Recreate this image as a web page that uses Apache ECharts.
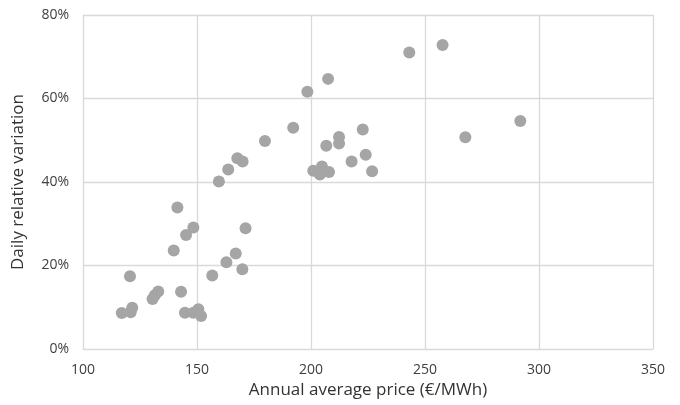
<!DOCTYPE html>
<html lang="en">
<head>
    <meta charset="UTF-8">
    <title>Daily relative variation vs annual average price</title>
    <script type="text/javascript" src="https://cdn.jsdelivr.net/npm/echarts@6/dist/echarts.min.js"></script>
    <style>
        html, body { margin: 0; padding: 0; background: #fff; }
    </style>
</head>
<body>
    <div id="main" style="width: 680px; height: 405px"></div>
    <script>
        // annual average price (EUR/MWh) and daily relative variation (%)
        var prices = [
            117, 121.6, 120.9, 120.6, 130.5, 131.5, 133, 143, 144.7,
            148.4, 150.6, 151.8, 139.8, 141.4, 145.2, 148.4, 156.7, 162.9, 167.0,
            169.9, 171.3, 159.6, 163.7, 167.7, 170.0, 179.8, 192.2, 198.4, 207.5,
            201.0, 203.9, 204.8, 207.9, 206.7, 212.3, 212.3, 217.8, 222.7, 224.0,
            226.8, 243.1, 257.7, 267.7, 291.8
        ];
        var variation = [
            8.6, 9.9, 8.8, 17.4, 12.0, 12.9, 13.8, 13.7, 8.7,
            8.7, 9.5, 7.9, 23.6, 33.9, 27.3, 29.1, 17.6, 20.8, 22.9,
            19.1, 28.9, 40.1, 43.0, 45.7, 44.9, 49.8, 53.0, 61.6, 64.7,
            42.7, 41.8, 43.7, 42.4, 48.7, 50.8, 49.2, 44.9, 52.6, 46.5,
            42.6, 71.0, 72.8, 50.7, 54.6
        ];
        var xTicks = [100, 150, 200, 250, 300, 350];
        var yTicks = [0, 20, 40, 60, 80];

        var points = prices.map(function (p, i) { return [p, variation[i]]; });

        var myChart = echarts.init(document.getElementById('main'));
        myChart.setOption({
            animation: false,
            textStyle: { fontFamily: 'Open Sans' },
            grid: { left: 83, right: 27, top: 15, bottom: 56 },
            xAxis: {
                type: 'value',
                min: xTicks[0],
                max: xTicks[xTicks.length - 1],
                interval: 50,
                name: 'Annual average price (€/MWh)',
                nameLocation: 'middle',
                nameGap: 32,
                nameTextStyle: { color: '#333', fontSize: 17 },
                axisLine: { lineStyle: { color: '#d9d9d9' } },
                axisTick: { show: false },
                axisLabel: { color: '#404040', fontSize: 14, margin: 14 },
                splitLine: { lineStyle: { color: '#d9d9d9', width: 1.3 } }
            },
            yAxis: {
                type: 'value',
                min: yTicks[0],
                max: yTicks[yTicks.length - 1],
                interval: 20,
                name: 'Daily relative variation',
                nameLocation: 'middle',
                nameGap: 56,
                nameTextStyle: { color: '#333', fontSize: 17 },
                axisLine: { show: true, lineStyle: { color: '#d9d9d9' } },
                axisTick: { show: false },
                axisLabel: { color: '#404040', fontSize: 14, margin: 14, formatter: '{value}%' },
                splitLine: { lineStyle: { color: '#d9d9d9', width: 1.3 } }
            },
            series: [{
                type: 'scatter',
                data: points,
                symbolSize: 12,
                itemStyle: { color: '#a5a5a5', opacity: 1 }
            }]
        });
    </script>
</body>
</html>
